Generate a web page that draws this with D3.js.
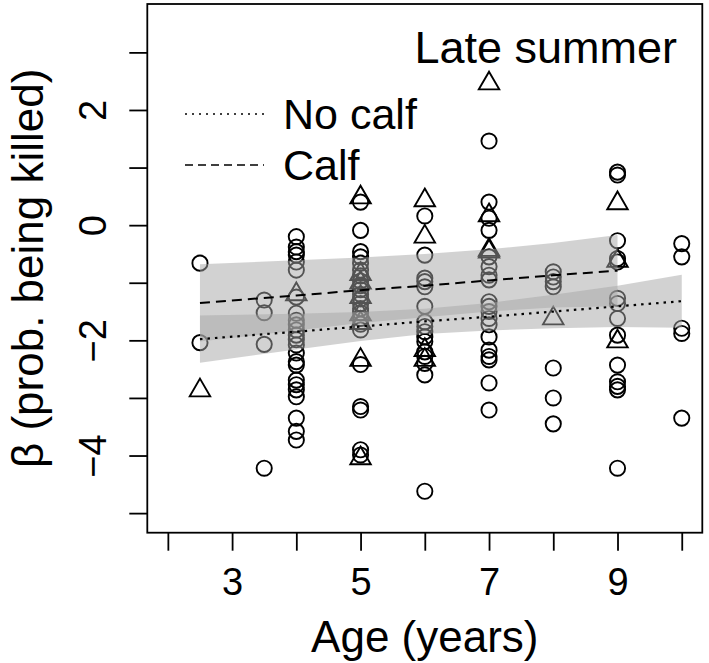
<!DOCTYPE html>
<html>
<head>
<meta charset="utf-8">
<script src="https://cdn.jsdelivr.net/npm/d3@7/dist/d3.min.js"></script>
<style>
  html, body { margin: 0; padding: 0; background: #fff; }
  svg { display: block; font-family: "Liberation Sans", Arial, Helvetica, sans-serif; }
</style>
</head>
<body>
<svg id="chart" width="709" height="663"></svg>
<script>
// ---------- data ----------
const xTicks = [2, 3, 4, 5, 6, 7, 8, 9, 10];
const xTickLabels = [3, 5, 7, 9];
const yTicks = [-5, -4, -3, -2, -1, 0, 1, 2, 3];
const yTickLabels = [-4, -2, 0, 2];

// circles (no calf)
const noCalfObs = [
  [2.5, -0.66], [2.5, -2.04],
  [3.5, -1.30], [3.5, -1.52], [3.5, -2.07], [3.5, -4.22],
  [4, -0.20], [4, -0.38], [4, -0.46], [4, -0.52], [4, -0.64], [4, -0.78], [4, -1.25],
  [4, -1.53], [4, -1.65], [4, -1.73], [4, -1.82], [4, -1.91], [4, -1.99], [4, -2.08],
  [4, -2.22], [4, -2.37], [4, -2.43], [4, -2.69], [4, -2.77], [4, -2.86], [4, -2.98],
  [4, -3.35], [4, -3.58], [4, -3.73],
  [5, 0.40], [5, -0.09], [5, -0.46], [5, -0.55], [5, -0.66], [5, -0.78], [5, -0.88],
  [5, -0.97], [5, -1.05], [5, -1.12], [5, -1.20], [5, -1.28], [5, -1.36], [5, -1.45],
  [5, -1.52], [5, -1.62], [5, -1.72], [5, -1.82], [5, -2.42], [5, -3.15], [5, -3.21],
  [5, -3.90], [5, -3.99],
  [6, 0.16], [6, -0.52], [6, -0.92], [6, -0.98], [6, -1.07], [6, -1.41], [6, -1.68],
  [6, -1.76], [6, -1.85], [6, -1.94], [6, -2.02], [6, -2.20], [6, -2.28], [6, -2.40],
  [6, -2.60], [6, -4.62],
  [7, 1.46], [7, 0.40], [7, 0.12], [7, -0.09], [7, -0.55], [7, -0.72], [7, -0.87],
  [7, -0.95], [7, -1.33], [7, -1.41], [7, -1.50], [7, -1.62], [7, -1.73], [7, -1.94],
  [7, -2.17], [7, -2.28], [7, -2.34], [7, -2.74], [7, -3.21],
  [8, -0.81], [8, -0.90], [8, -0.98], [8, -1.07], [8, -2.48], [8, -3.00], [8, -3.45],
  [9, 0.92], [9, 0.87], [9, -0.27], [9, -0.58], [9, -0.64], [9, -1.27], [9, -1.36],
  [9, -1.62], [9, -1.91], [9, -2.43], [9, -2.72], [9, -2.80], [9, -2.86], [9, -4.22],
  [10, -0.32], [10, -0.55], [10, -1.79], [10, -1.88], [10, -3.35]
];

// triangles (calf)
const calfObs = [
  [2.5, -2.87],
  [4, -1.20],
  [5, 0.48], [5, -0.85], [5, -1.00], [5, -1.25], [5, -1.55], [5, -1.70], [5, -2.34], [5, -4.05],
  [6, 0.43], [6, -0.20], [6, -2.17], [6, -2.34],
  [7, 2.46], [7, 0.17], [7, -0.43], [7, -0.46],
  [8, -1.62],
  [9, 0.38], [9, -0.62], [9, -2.02]
];

// fitted lines and confidence bands
const noCalfX     = [2.5, 4, 5, 6, 7, 8, 9, 10];
const noCalfFit   = [-1.98, -1.85, -1.76, -1.67, -1.59, -1.50, -1.41, -1.32];
const noCalfUpper = [-1.57, -1.54, -1.51, -1.45, -1.35, -1.21, -1.05, -0.86];
const noCalfLower = [-2.39, -2.16, -2.01, -1.89, -1.83, -1.79, -1.77, -1.78];

const calfX     = [2.5, 4, 5, 6, 7, 8, 9];
const calfFit   = [-1.35, -1.22, -1.13, -1.05, -0.96, -0.87, -0.79];
const calfUpper = [-0.68, -0.61, -0.56, -0.50, -0.42, -0.31, -0.17];
const calfLower = [-2.02, -1.83, -1.70, -1.60, -1.50, -1.43, -1.41];

const legendLabels = ["No calf", "Calf"];
const panelTitle = "Late summer";
const xTitle = "Age (years)";
const yTitle = "\u03B2 (prob. being killed)";

// ---------- layout ----------
const svg = d3.select("#chart");
const plot = { left: 147.3, right: 702.3, top: 4, bottom: 532.7 };

const x = d3.scaleLinear().domain([1.68, 10.32]).range([plot.left, plot.right]);
const y = d3.scaleLinear().domain([-5.34, 3.84]).range([plot.bottom, plot.top]);

const R = 7.6;

// points: circles
svg.append("g").selectAll("circle").data(noCalfObs).join("circle")
  .attr("cx", d => x(d[0])).attr("cy", d => y(d[1])).attr("r", R)
  .attr("fill", "none").attr("stroke", "#000").attr("stroke-width", 1.9);

// points: triangles (R pch 2 geometry)
const triPath = d => {
  const cx = x(d[0]), cy = y(d[1]);
  const r = 1.5551 * R, yc = 0.7776 * R, xc = 1.3468 * R;
  return `M${cx},${cy - r}L${cx + xc},${cy + yc}L${cx - xc},${cy + yc}Z`;
};
svg.append("g").selectAll("path").data(calfObs).join("path")
  .attr("d", triPath)
  .attr("fill", "none").attr("stroke", "#000").attr("stroke-width", 1.9)
  .attr("stroke-linejoin", "miter");

// bands
const band = (xs, lo, hi) => d3.area()
  .x((d, i) => x(xs[i])).y0((d, i) => y(lo[i])).y1((d, i) => y(hi[i]))(xs);

svg.append("path").attr("d", band(calfX, calfLower, calfUpper))
  .attr("fill", "rgb(166,166,166)").attr("fill-opacity", 0.5);
svg.append("path").attr("d", band(noCalfX, noCalfLower, noCalfUpper))
  .attr("fill", "rgb(166,166,166)").attr("fill-opacity", 0.5);

// fitted lines
const line = (xs, ys) => d3.line().x((d, i) => x(xs[i])).y((d, i) => y(ys[i]))(xs);
svg.append("path").attr("d", line(noCalfX, noCalfFit))
  .attr("fill", "none").attr("stroke", "#000").attr("stroke-width", 2.2)
  .attr("stroke-dasharray", "2.5,5");
svg.append("path").attr("d", line(calfX, calfFit))
  .attr("fill", "none").attr("stroke", "#000").attr("stroke-width", 2)
  .attr("stroke-dasharray", "10,6");

// box
svg.append("rect")
  .attr("x", plot.left).attr("y", plot.top)
  .attr("width", plot.right - plot.left).attr("height", plot.bottom - plot.top)
  .attr("fill", "none").attr("stroke", "#000").attr("stroke-width", 1.8);

// x axis
const xAxis = d3.axisBottom(x).tickValues(xTicks).tickSize(18).tickSizeOuter(0)
  .tickFormat(d => xTickLabels.includes(d) ? d : "").tickPadding(10);
const gx = svg.append("g").attr("transform", `translate(0,${plot.bottom})`).call(xAxis);
gx.select(".domain").remove();
gx.selectAll(".tick line").attr("stroke-width", 1.8);
gx.selectAll(".tick text").attr("font-size", 38).attr("fill", "#000")
  .attr("font-family", "Liberation Sans, Arial, sans-serif")
  .attr("dy", null).attr("y", 62);

// y axis
const yAxis = d3.axisLeft(y).tickValues(yTicks).tickSize(18).tickSizeOuter(0)
  .tickFormat(d => yTickLabels.includes(d) ? d3.format("")(d).replace("-", "\u2212") : "");
const gy = svg.append("g").attr("transform", `translate(${plot.left},0)`).call(yAxis);
gy.select(".domain").remove();
gy.selectAll(".tick line").attr("stroke-width", 1.8);
gy.selectAll(".tick text")
  .attr("font-size", 38).attr("fill", "#000")
  .attr("font-family", "Liberation Sans, Arial, sans-serif")
  .attr("x", null).attr("dy", null)
  .attr("text-anchor", "middle")
  .attr("transform", "translate(-41,0) rotate(-90)");

// axis titles
svg.append("text").attr("x", (plot.left + plot.right) / 2).attr("y", 652)
  .attr("text-anchor", "middle").attr("font-size", 44).text(xTitle);
svg.append("text")
  .attr("transform", `translate(43,${(plot.top + plot.bottom) / 2}) rotate(-90)`)
  .attr("text-anchor", "middle").attr("font-size", 44).text(yTitle);

// panel title
svg.append("text").attr("x", 677).attr("y", 63).attr("text-anchor", "end")
  .attr("font-size", 45).text(panelTitle);

// legend
const legendY = [114, 165];
const legendDash = ["2,5", "8,5"];
legendLabels.forEach((lab, i) => {
  svg.append("line").attr("x1", 185).attr("x2", 264)
    .attr("y1", legendY[i]).attr("y2", legendY[i])
    .attr("stroke", "#000").attr("stroke-width", 1.5)
    .attr("stroke-dasharray", legendDash[i]);
  svg.append("text").attr("x", 283).attr("y", legendY[i] + 15.3)
    .attr("font-size", 43).text(lab);
});
</script>
</body>
</html>
